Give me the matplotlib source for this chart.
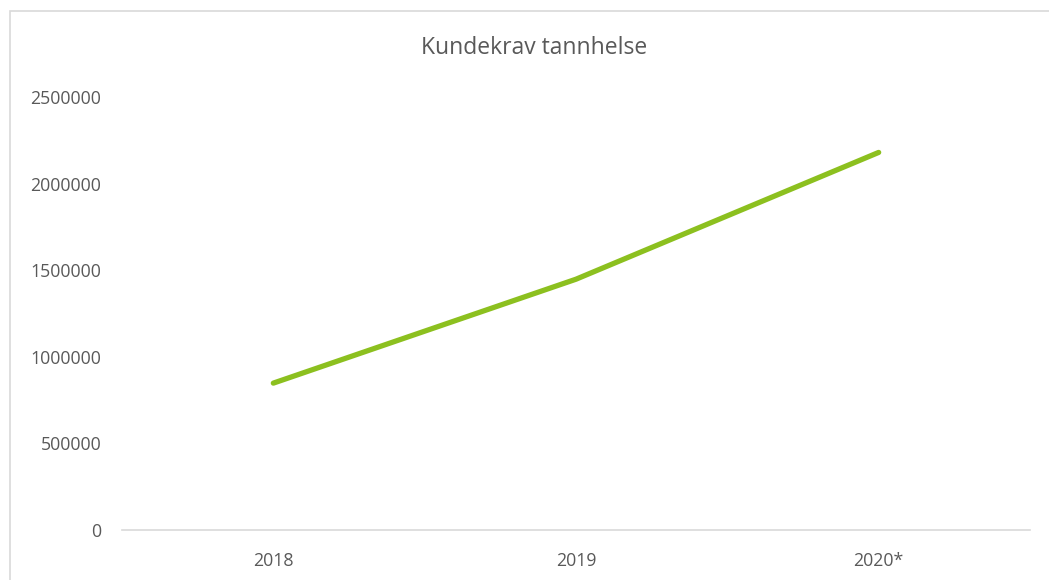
import matplotlib.pyplot as plt
from matplotlib.patches import Rectangle

years = ["2018", "2019", "2020*"]
kundekrav = [848000, 1448000, 2180000]
y_ticks = [0, 500000, 1000000, 1500000, 2000000, 2500000]

LINE_COLOR = "#8CC01F"
TEXT_COLOR = "#595959"
GRID_COLOR = "#D9D9D9"

plt.rcParams["font.family"] = ["Open Sans", "DejaVu Sans"]

fig = plt.figure(figsize=(10.49, 5.8), dpi=100)
ax = fig.add_axes([122 / 1049, 1 - 530 / 580, (1030 - 122) / 1049, (530 - 97) / 580])

x = list(range(len(years)))
ax.plot(x, kundekrav, color=LINE_COLOR, linewidth=3.8, solid_capstyle="round")

ax.set_xlim(-0.5, len(years) - 0.5)
ax.set_ylim(0, 2500000)
ax.set_xticks(x)
ax.set_xticklabels(years)
ax.set_yticks(y_ticks)
ax.set_yticklabels([str(v) for v in y_ticks])
ax.tick_params(axis="both", length=0, labelsize=12.8, colors=TEXT_COLOR)
ax.tick_params(axis="y", pad=15)
ax.tick_params(axis="x", pad=16)

for side in ["top", "right", "left"]:
    ax.spines[side].set_visible(False)
ax.spines["bottom"].set_color(GRID_COLOR)
ax.spines["bottom"].set_linewidth(1.2)

fig.text(534 / 1049, 1 - 48 / 580, "Kundekrav tannhelse", ha="center", va="center",
         fontsize=16.5, color=TEXT_COLOR)

# chart area border (cut off at right and bottom like the source)
border = Rectangle((10 / 1049, -0.1), 1.1, 1.1 - 11 / 580, transform=fig.transFigure,
                   fill=False, edgecolor=GRID_COLOR, linewidth=1.2)
fig.add_artist(border)

fig.savefig("out.png", dpi=100)
